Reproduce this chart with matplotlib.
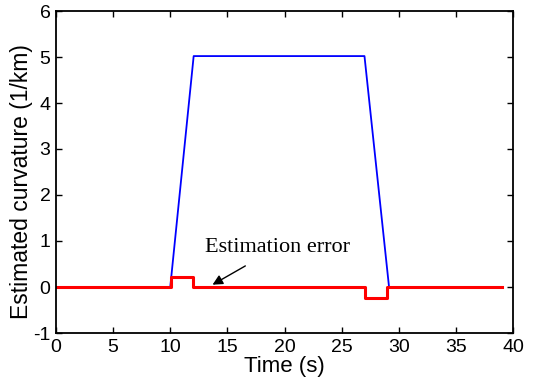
import matplotlib
matplotlib.use("Agg")
import matplotlib.pyplot as plt

# Estimated curvature (blue) breakpoints
curv_t = [0, 10.0, 12.05, 27.0, 29.15, 39.0]
curv_v = [0.0, 0.0, 5.02, 5.02, 0.0, 0.0]

# Estimation error (red) breakpoints
err_t = [0, 10.1, 10.1, 12.0, 12.0, 27.05, 27.05, 29.0, 29.0, 39.0]
err_v = [0.0, 0.0, 0.21, 0.21, 0.0, 0.0, -0.23, -0.23, 0.0, 0.0]

xticks = [0, 5, 10, 15, 20, 25, 30, 35, 40]
yticks = [-1, 0, 1, 2, 3, 4, 5, 6]

plt.rcParams['font.family'] = ['Liberation Sans', 'DejaVu Sans']
plt.rcParams['axes.unicode_minus'] = False
fig = plt.figure(figsize=(5.33, 3.8), dpi=100)
ax = fig.add_axes([56/533, 1 - 333/380, (513-56)/533, (333-11)/380])

ax.plot(curv_t, curv_v, color='#0000ff', lw=1.3)
ax.plot(err_t, err_v, color='#ff0000', lw=2.2)

ax.set_xlim(0, 40)
ax.set_ylim(-1, 6)
ax.set_xticks(xticks)
ax.set_yticks(yticks)
ax.tick_params(direction='in', labelsize=14, length=4, width=1, top=True, right=True, pad=4)
for s in ax.spines.values():
    s.set_linewidth(1.3)

ax.set_xlabel('Time (s)', fontsize=16, labelpad=0)
ax.set_ylabel('Estimated curvature (1/km)', fontsize=16.5)
ax.yaxis.set_label_coords(-0.05, 0.47)

ax.annotate('Estimation error', xy=(13.7, 0.05), xytext=(19.4, 0.86),
            fontsize=16, family=['Liberation Serif', 'DejaVu Serif'], ha='center', va='center',
            arrowprops=dict(arrowstyle='-|>', color='black', lw=1, shrinkA=9, shrinkB=0,
                            mutation_scale=15))

fig.savefig('out.png', dpi=100)
